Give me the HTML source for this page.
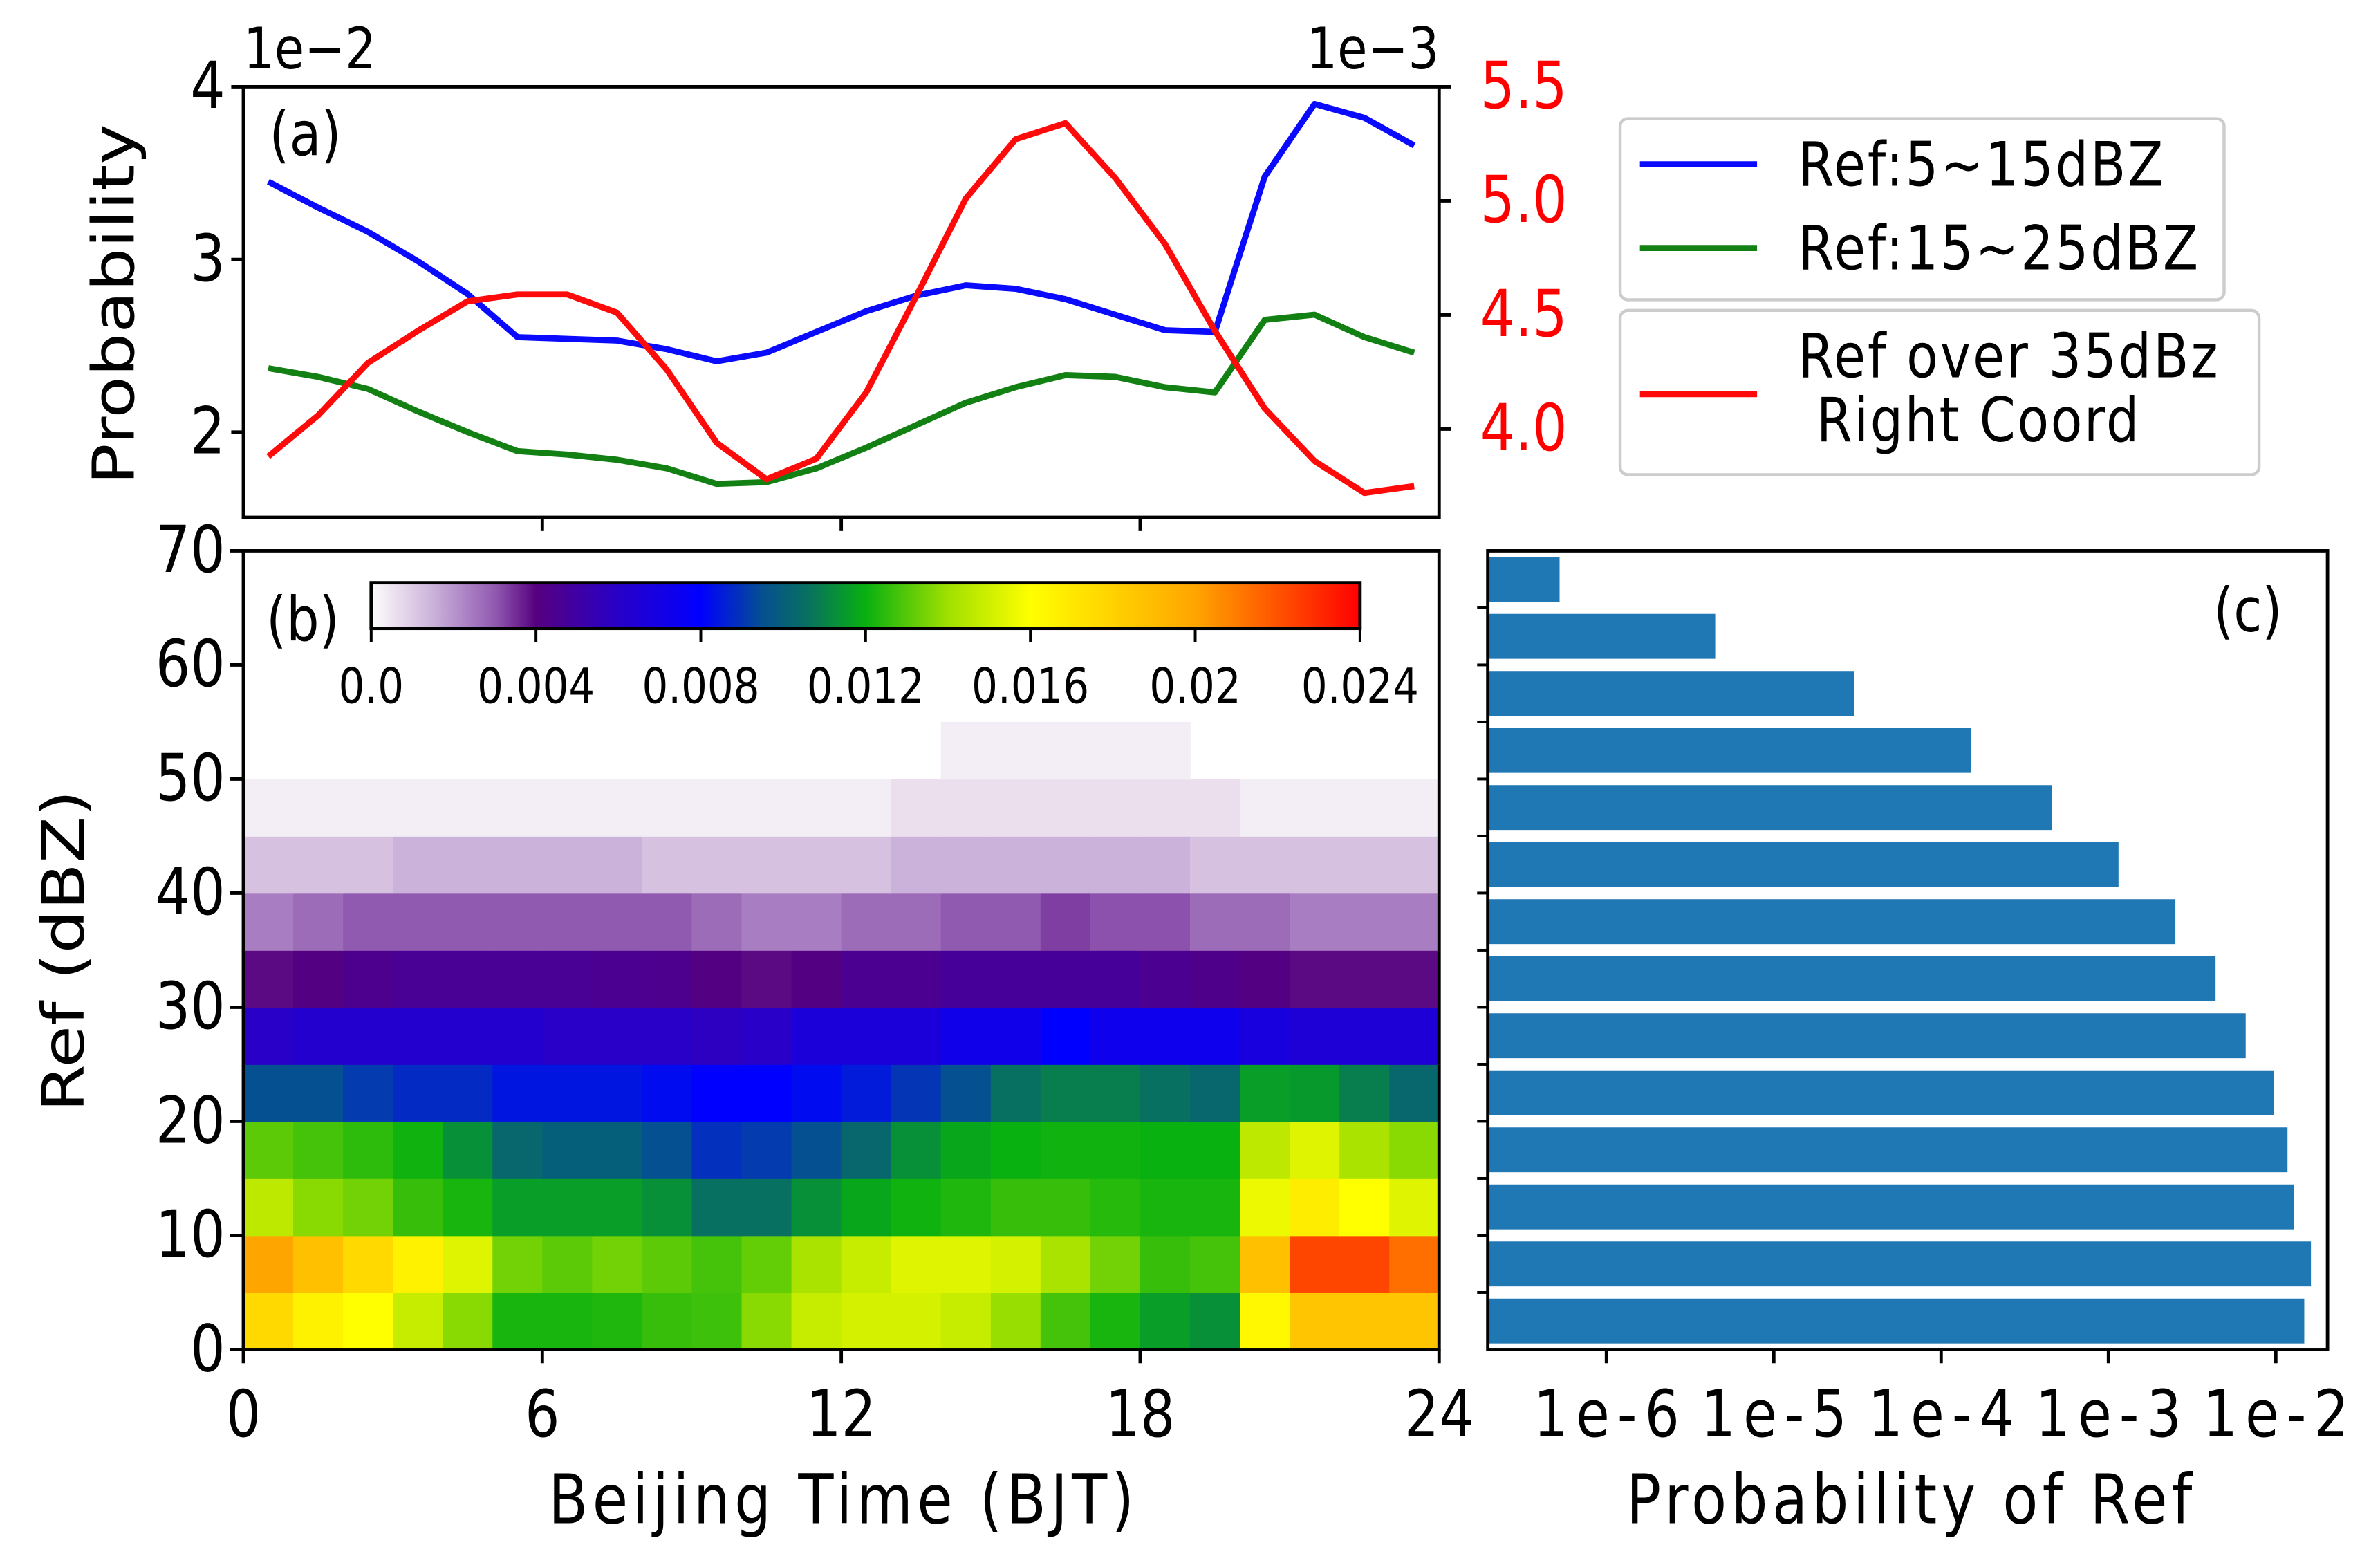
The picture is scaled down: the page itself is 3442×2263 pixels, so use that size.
<!DOCTYPE html>
<html><head><meta charset="utf-8"><style>
html,body{margin:0;padding:0;background:#fff;}
svg{display:block;font-family:"DejaVu Sans","Liberation Sans",sans-serif;}
</style></head><body>
<svg id="fig" width="3442" height="2263" viewBox="0 0 1564.5 1028.6" xmlns="http://www.w3.org/2000/svg">
<rect width="1564.5" height="1028.6" fill="#fff"/>
<g id="pa"></g>
<g id="pb"></g>
<g id="pc"></g>
</svg>
<script>
// ---------- data ----------
const hours = [0.5,1.5,2.5,3.5,4.5,5.5,6.5,7.5,8.5,9.5,10.5,11.5,12.5,13.5,14.5,15.5,16.5,17.5,18.5,19.5,20.5,21.5,22.5,23.5];
const blueVals = [3.45,3.30,3.16,2.99,2.80,2.55,2.54,2.53,2.48,2.41,2.46,2.58,2.70,2.79,2.85,2.83,2.77,2.68,2.59,2.58,3.48,3.90,3.82,3.66];
const greenVals = [2.37,2.32,2.25,2.12,2.00,1.89,1.87,1.84,1.79,1.70,1.71,1.79,1.91,2.04,2.17,2.26,2.33,2.32,2.26,2.23,2.65,2.68,2.55,2.46];
const redVals = [3.88,4.06,4.29,4.43,4.56,4.59,4.59,4.51,4.26,3.94,3.78,3.87,4.16,4.58,5.01,5.27,5.34,5.10,4.81,4.43,4.09,3.86,3.72,3.75];
const leftTicks = [2,3,4];
const rightTicks = [4.0,4.5,5.0,5.5];
const xTicks = [0,6,12,18,24];
const heatRows = [
 [0.0177,0.0166,0.0160,0.0148,0.0137,0.0122,0.0122,0.0123,0.0126,0.0127,0.0137,0.0148,0.0151,0.0151,0.0148,0.0139,0.0128,0.0122,0.0116,0.0113,0.0163,0.0186,0.0186,0.0186],
 [0.0200,0.0188,0.0177,0.0166,0.0153,0.0134,0.0131,0.0134,0.0131,0.0128,0.0132,0.0142,0.0148,0.0153,0.0153,0.0151,0.0142,0.0134,0.0126,0.0128,0.0188,0.0223,0.0223,0.0213],
 [0.0146,0.0137,0.0134,0.0126,0.0122,0.0116,0.0116,0.0116,0.0113,0.0106,0.0106,0.0113,0.0118,0.0121,0.0123,0.0126,0.0126,0.0124,0.0122,0.0122,0.0156,0.0168,0.0160,0.0153],
 [0.0131,0.0128,0.0125,0.0121,0.0113,0.0103,0.0100,0.0100,0.0095,0.0089,0.0091,0.0095,0.0103,0.0113,0.0118,0.0120,0.0121,0.0121,0.0120,0.0120,0.0146,0.0153,0.0142,0.0137],
 [0.0095,0.0095,0.0091,0.0088,0.0088,0.0084,0.0084,0.0084,0.0082,0.0080,0.0080,0.0082,0.0085,0.0090,0.0095,0.0106,0.0109,0.0109,0.0106,0.0103,0.0116,0.0115,0.0109,0.0103],
 [0.0060,0.0062,0.0062,0.0062,0.0062,0.0062,0.0060,0.0060,0.0060,0.0058,0.0060,0.0066,0.0066,0.0066,0.0072,0.0072,0.0080,0.0073,0.0073,0.0073,0.0068,0.0065,0.0065,0.0065],
 [0.0039,0.0041,0.0044,0.0046,0.0046,0.0046,0.0046,0.0045,0.0044,0.0041,0.0039,0.0041,0.0045,0.0045,0.0047,0.0047,0.0047,0.0047,0.0045,0.0043,0.0041,0.0039,0.0039,0.0039],
 [0.0024,0.0027,0.0030,0.0030,0.0030,0.0030,0.0030,0.0030,0.0030,0.0027,0.0024,0.0024,0.0027,0.0027,0.0030,0.0030,0.0033,0.0031,0.0031,0.0027,0.0027,0.0024,0.0024,0.0024],
 [0.0012,0.0012,0.0012,0.0015,0.0015,0.0015,0.0015,0.0015,0.0012,0.0012,0.0012,0.0012,0.0012,0.0015,0.0015,0.0015,0.0015,0.0015,0.0015,0.0012,0.0012,0.0012,0.0012,0.0012],
 [0.0003,0.0003,0.0003,0.0003,0.0003,0.0003,0.0003,0.0003,0.0003,0.0003,0.0003,0.0003,0.0003,0.0006,0.0006,0.0006,0.0006,0.0006,0.0006,0.0006,0.0003,0.0003,0.0003,0.0003],
 [0,0,0,0,0,0,0,0,0,0,0,0,0,0,0.0003,0.0003,0.0003,0.0003,0.0003,0,0,0,0,0],
 [0,0,0,0,0,0,0,0,0,0,0,0,0,0,0,0,0,0,0,0,0,0,0,0],
 [0,0,0,0,0,0,0,0,0,0,0,0,0,0,0,0,0,0,0,0,0,0,0,0],
 [0,0,0,0,0,0,0,0,0,0,0,0,0,0,0,0,0,0,0,0,0,0,0,0]
];
const refTicks = [0,10,20,30,40,50,60,70];
const cbTicks = [0,0.004,0.008,0.012,0.016,0.02,0.024];
const cbTickLabels = ["0.0","0.004","0.008","0.012","0.016","0.02","0.024"];
const barLogVals = [-1.83,-1.79,-1.89,-1.93,-2.01,-2.18,-2.36,-2.60,-2.94,-3.34,-3.82,-4.52,-5.35,-6.28];
const logTicks = [-6,-5,-4,-3,-2];
const logTickLabels = ["1e-6","1e-5","1e-4","1e-3","1e-2"];

// ---------- helpers ----------
const NS="http://www.w3.org/2000/svg";
function mk(parent,tag,attrs,text){const e=document.createElementNS(NS,tag);for(const k in attrs)e.setAttribute(k,attrs[k]);if(text!==undefined)e.textContent=text;parent.appendChild(e);return e;}
const cmStops=[[0,"#ffffff"],[0.0003,"#f3eef5"],[0.0006,"#ebdfee"],[0.0015,"#cbb2da"],[0.003,"#915ab1"],[0.004,"#56007f"],[0.006,"#2800c8"],[0.008,"#0000ff"],[0.0095,"#055090"],[0.0106,"#087060"],[0.012,"#08b010"],[0.014,"#a0e000"],[0.016,"#ffff00"],[0.020,"#ffa500"],[0.024,"#ff0000"]];
function hx(c){return [parseInt(c.substr(1,2),16),parseInt(c.substr(3,2),16),parseInt(c.substr(5,2),16)];}
function cmap(v){if(v<=0)return "#ffffff";for(let i=1;i<cmStops.length;i++){if(v<=cmStops[i][0]){const a=cmStops[i-1],b=cmStops[i];const t=(v-a[0])/(b[0]-a[0]);const ca=hx(a[1]),cb=hx(b[1]);return "rgb("+ca.map((x,j)=>Math.round(x+(cb[j]-x)*t)).join(",")+")";}}return "#ff0000";}
// stretched text (reference glyphs are taller/narrower)
function txt(parent,x,y,s,size,extra,name){
  const a={x:x,y:y,"font-size":size,transform:"translate(0,"+y+") scale(1,1.18) translate(0,"+(-y)+")"};
  for(const k in (extra||{}))a[k]=extra[k];
  const t=mk(parent,'text',a,s);
  
  
  return t;
}

const X0=160,X1=946;
const xH=h=>X0+(X1-X0)*h/24;
const SW=2.2;

// ---------- panel a ----------
const pa=document.getElementById('pa');
const A_T=57,A_B=340;
const yL=v=>57+(4-v)*113.5;
const yR=v=>57+(5.5-v)*150;
function line(vals,fy,color,name){
  const p=mk(pa,'polyline',{points:hours.map((h,i)=>xH(h)+","+fy(vals[i])).join(" "),fill:"none",stroke:color,"stroke-width":4,"stroke-linejoin":"round"});
  
  
}
line(greenVals,yL,"#138013","line-ref-15-25");
line(blueVals,yL,"#0a0aff","line-ref-5-15");
line(redVals,yR,"#ff0a0a","line-ref-over-35");
mk(pa,'rect',{x:X0,y:A_T,width:X1-X0,height:A_B-A_T,fill:"none",stroke:"#000","stroke-width":SW});
leftTicks.forEach(v=>{mk(pa,'line',{x1:X0-8,x2:X0,y1:yL(v),y2:yL(v),stroke:"#000","stroke-width":SW});
  txt(pa,X0-12,yL(v)+14,String(v),36,{"text-anchor":"end"},'left-tick-label');});
rightTicks.forEach(v=>{mk(pa,'line',{x1:X1,x2:X1+8,y1:yR(v),y2:yR(v),stroke:"#000","stroke-width":SW});
  txt(pa,X1+27,yR(v)+14,v.toFixed(1),36,{fill:"#ff0000"},'right-tick-label');});
[6,12,18].forEach(h=>mk(pa,'line',{x1:xH(h),x2:xH(h),y1:A_B,y2:A_B+9,stroke:"#000","stroke-width":SW}));
txt(pa,160,45,"1e\u22122",32,{},'left-offset-label');
txt(pa,946,45,"1e\u22123",32,{"text-anchor":"end"},'right-offset-label');
txt(pa,177,102,"(a)",34,{},'panel-a-label');
mk(pa,'text',{x:0,y:0,"font-size":38,transform:"translate(88,200) rotate(-90) scale(1.18,1)","text-anchor":"middle"},"Probability");
// legend
const lg=mk(pa,'g',{});
mk(lg,'rect',{x:1065,y:78,width:397,height:119,rx:5,fill:"#fff",stroke:"#ccc","stroke-width":2});
mk(lg,'rect',{x:1065,y:204,width:420,height:108,rx:5,fill:"#fff",stroke:"#ccc","stroke-width":2});
mk(lg,'line',{x1:1078,x2:1155,y1:108,y2:108,stroke:"#0a0aff","stroke-width":4});
mk(lg,'line',{x1:1078,x2:1155,y1:163,y2:163,stroke:"#138013","stroke-width":4});
mk(lg,'line',{x1:1078,x2:1155,y1:259,y2:259,stroke:"#ff0a0a","stroke-width":4});
txt(lg,1182,122,"Ref:5~15dBZ",34,{textLength:240},'legend-entry-5-15');
txt(lg,1182,177,"Ref:15~25dBZ",34,{textLength:263},'legend-entry-15-25');
txt(lg,1182,248,"Ref over 35dBz",34,{textLength:276},'legend-entry-over-35');
txt(lg,1194,290,"Right Coord",34,{textLength:212},'legend-entry-right-coord');

// ---------- panel b ----------
const pb=document.getElementById('pb');
const B_T=362,B_B=887;
const yD=d=>B_B-(B_B-B_T)*d/70;
heatRows.forEach((row,r)=>row.forEach((v,c)=>{
  if(v<=0)return;
  const e=mk(pb,'rect',{x:xH(c),y:yD((r+1)*5),width:xH(c+1)-xH(c)+0.4,height:yD(r*5)-yD((r+1)*5)+0.4,fill:cmap(v)});
  
  
}));
mk(pb,'rect',{x:X0,y:B_T,width:X1-X0,height:B_B-B_T,fill:"none",stroke:"#000","stroke-width":SW});
refTicks.forEach(d=>{mk(pb,'line',{x1:X0-9,x2:X0,y1:yD(d),y2:yD(d),stroke:"#000","stroke-width":SW});
  txt(pb,X0-12,yD(d)+14,String(d),36,{"text-anchor":"end"},'y-tick-label');});
xTicks.forEach(h=>{mk(pb,'line',{x1:xH(h),x2:xH(h),y1:B_B,y2:B_B+9,stroke:"#000","stroke-width":SW});
  txt(pb,xH(h),944,String(h),36,{"text-anchor":"middle"},'x-tick-label');});
txt(pb,553,1001,"Beijing Time (BJT)",38,{"text-anchor":"middle",textLength:385},'x-axis-title');
mk(pb,'text',{x:0,y:0,"font-size":38,transform:"translate(55,625) rotate(-90) scale(1.18,1)","text-anchor":"middle"},"Ref (dBZ)");
txt(pb,175,421,"(b)",34,{},'panel-b-label');
// colorbar
const CB0=244,CB1=894,cbT=383,cbB=413;
const cbx=v=>CB0+(CB1-CB0)*v/0.024;
const defs=mk(pb,'defs',{});
const gr=mk(defs,'linearGradient',{id:"cbg",x1:"0",x2:"1",y1:"0",y2:"0"});
for(let i=0;i<=96;i++){const v=0.024*i/96;mk(gr,'stop',{offset:(i/96),"stop-color":cmap(Math.max(v,0.00005))});}
const cb=mk(pb,'rect',{x:CB0,y:cbT,width:CB1-CB0,height:cbB-cbT,fill:"url(#cbg)",stroke:"#000","stroke-width":SW});

cbTicks.forEach((v,i)=>{mk(pb,'line',{x1:cbx(v),x2:cbx(v),y1:cbB,y2:cbB+9,stroke:"#000","stroke-width":1.8});
  txt(pb,cbx(v),462,cbTickLabels[i],27,{"text-anchor":"middle"},'colorbar-tick-label');});

// ---------- panel c ----------
const pc=document.getElementById('pc');
const C0=978,C1=1530;
const xL=l=>1056+(l+6)*110;
const slot=(B_B-B_T)/14;
barLogVals.forEach((l,i)=>{
  const yTop=B_B-(i+1)*slot+4;
  const e=mk(pc,'rect',{x:C0,y:yTop,width:xL(l)-C0,height:slot-8,fill:"#1f77b4"});
  
  
});
mk(pc,'rect',{x:C0,y:B_T,width:C1-C0,height:B_B-B_T,fill:"none",stroke:"#000","stroke-width":SW});
for(let k=1;k<=13;k++){const y=B_B-k*slot;mk(pc,'line',{x1:C0-7,x2:C0,y1:y,y2:y,stroke:"#000","stroke-width":1.8});}
logTicks.forEach((l,i)=>{mk(pc,'line',{x1:xL(l),x2:xL(l),y1:B_B,y2:B_B+9,stroke:"#000","stroke-width":SW});
  txt(pc,xL(l),944,logTickLabels[i],36,{"text-anchor":"middle",textLength:96},'log-tick-label');});
txt(pc,1255,1001,"Probability of Ref",38,{"text-anchor":"middle",textLength:372},'x-axis-title-probability-of-ref');
txt(pc,1455,415,"(c)",34,{},'panel-c-label');
</script>
</body></html>
